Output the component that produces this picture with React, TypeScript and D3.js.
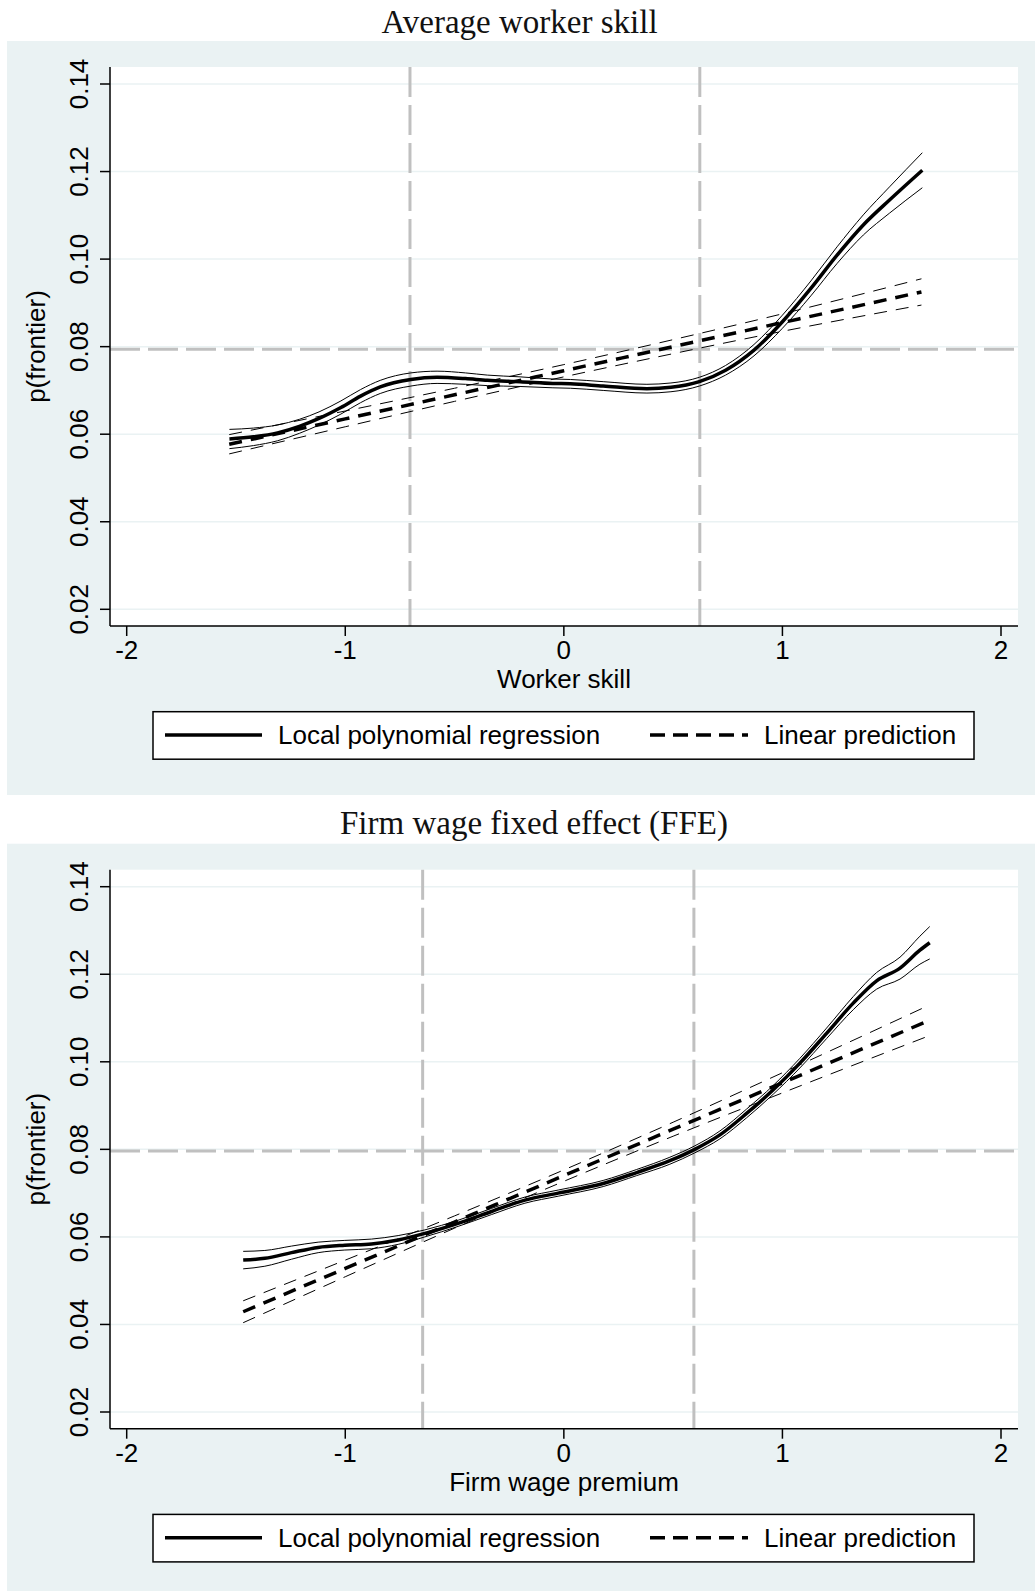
import React from "react";
import * as d3 from "d3";

// ---- Average worker skill ----
const skillX = [-1.53, -1.42, -1.31, -1.21, -1.12, -1.02, -0.93, -0.84, -0.7, -0.58, -0.45, -0.35, -0.2, -0.05, 0.03, 0.18, 0.38, 0.49, 0.62, 0.74, 0.87, 1.0, 1.13, 1.25, 1.37, 1.49, 1.64];
const skillFit = [0.0589, 0.0594, 0.0603, 0.0618, 0.0636, 0.0661, 0.0687, 0.0708, 0.0725, 0.073, 0.0727, 0.0723, 0.072, 0.0716, 0.0715, 0.071, 0.0704, 0.0707, 0.072, 0.0746, 0.0792, 0.0857, 0.0933, 0.1009, 0.1078, 0.1135, 0.1203];
const skillHi = [0.0611, 0.0614, 0.0621, 0.0634, 0.0651, 0.0676, 0.0702, 0.0723, 0.074, 0.0744, 0.074, 0.0735, 0.0731, 0.0726, 0.0725, 0.072, 0.0714, 0.0717, 0.073, 0.0757, 0.0805, 0.0872, 0.095, 0.1028, 0.1101, 0.1165, 0.1243];
const skillLo = [0.0567, 0.0574, 0.0585, 0.0602, 0.0621, 0.0646, 0.0672, 0.0693, 0.071, 0.0716, 0.0714, 0.0711, 0.0709, 0.0706, 0.0705, 0.07, 0.0694, 0.0697, 0.071, 0.0735, 0.0779, 0.0842, 0.0916, 0.099, 0.1055, 0.1105, 0.1163];
const skillLinX = [-1.531, -1, -0.5, 0, 0.5, 1, 1.636];
const skillLin = [0.0577, 0.0635, 0.069, 0.0745, 0.08, 0.0855, 0.0925];
const skillLinHi = [0.0599, 0.0653, 0.0705, 0.0759, 0.0816, 0.0875, 0.0955];
const skillLinLo = [0.0555, 0.0617, 0.0675, 0.0731, 0.0784, 0.0835, 0.0895];
const skillRefX = [-0.704, 0.622];
const skillRefY = 0.0794;

// ---- Firm wage fixed effect ----
const ffeX = [-1.467, -1.368, -1.246, -1.124, -1.002, -0.88, -0.758, -0.636, -0.484, -0.331, -0.178, -0.026, 0.18, 0.333, 0.485, 0.599, 0.714, 0.836, 0.958, 1.08, 1.202, 1.324, 1.431, 1.538, 1.629, 1.674];
const ffeFit = [0.0547, 0.0551, 0.0564, 0.0576, 0.0581, 0.0584, 0.0593, 0.0608, 0.0631, 0.0658, 0.0684, 0.07, 0.0722, 0.0747, 0.0774, 0.08, 0.0833, 0.0882, 0.0936, 0.0997, 0.1065, 0.1134, 0.1185, 0.1214, 0.1255, 0.1272];
const ffeHi = [0.0567, 0.0569, 0.0579, 0.0588, 0.0592, 0.0595, 0.0603, 0.0616, 0.0638, 0.0665, 0.0691, 0.0707, 0.0729, 0.0754, 0.0782, 0.0808, 0.0842, 0.0892, 0.0946, 0.1008, 0.1077, 0.1149, 0.1204, 0.1239, 0.1287, 0.1309];
const ffeLo = [0.0527, 0.0533, 0.0549, 0.0564, 0.057, 0.0573, 0.0583, 0.06, 0.0624, 0.0651, 0.0677, 0.0693, 0.0715, 0.074, 0.0766, 0.0792, 0.0824, 0.0872, 0.0926, 0.0986, 0.1053, 0.1119, 0.1166, 0.1189, 0.1223, 0.1235];
const ffeLinX = [-1.467, -1, -0.5, 0, 0.5, 1, 1.674];
const ffeLin = [0.0429, 0.0528, 0.0634, 0.074, 0.0846, 0.0952, 0.1095];
const ffeLinHi = [0.0454, 0.0547, 0.0648, 0.0753, 0.0862, 0.0975, 0.113];
const ffeLinLo = [0.0404, 0.0509, 0.062, 0.0727, 0.083, 0.0929, 0.106];
const ffeRefX = [-0.646, 0.595];
const ffeRefY = 0.0796;

const xTicks = [-2, -1, 0, 1, 2];
const yTicks = [0.02, 0.04, 0.06, 0.08, 0.1, 0.12, 0.14];

const BG = "#EAF2F3";
const REF = "#C0C0C0";
const SANS = "'Liberation Sans', Arial, sans-serif";

// plot region (panel-local)
const left = 110, right = 1018, top = 67, bottom = 626;
const xScale = d3.scaleLinear().domain([-2, 2]).range([126.7, 1001]);
const yScale = d3.scaleLinear().domain([0.02, 0.14]).range([609.3, 84]);

function pathOf(xs: number[], ys: number[]) {
  const pts = xs.map((x, i) => [x, ys[i]] as [number, number]);
  return d3
    .line<[number, number]>()
    .x((d) => xScale(d[0]))
    .y((d) => yScale(d[1]))
    .curve(d3.curveMonotoneX)(pts) as string;
}

function Panel(props: any) {
  const { dy, title, titleX, titleY, xLabel, bgH, s } = props;
  return (
    <g transform={`translate(0,${dy})`}>
      <text x={titleX} y={titleY} textAnchor="middle" fontFamily="'Liberation Serif', 'Times New Roman', serif" fontSize={33} fill="#111">
        {title}
      </text>
      <rect x={7} y={41} width={1028} height={bgH} fill={BG} />
      <rect x={left} y={top} width={right - left} height={bottom - top} fill="#fff" />
      {yTicks.map((t) => (
        <line key={"g" + t} x1={left} x2={right} y1={yScale(t)} y2={yScale(t)} stroke={BG} strokeWidth={1.5} />
      ))}
      {/* reference lines */}
      <line x1={left} x2={right} y1={yScale(s.refY)} y2={yScale(s.refY)} stroke={REF} strokeWidth={3} strokeDasharray="30,8" />
      {s.refX.map((v: number) => (
        <line key={"r" + v} x1={xScale(v)} x2={xScale(v)} y1={top} y2={bottom} stroke={REF} strokeWidth={3} strokeDasharray="30,8" />
      ))}
      {/* linear prediction */}
      <path d={pathOf(s.linX, s.linHi)} fill="none" stroke="#000" strokeWidth={1} strokeDasharray="13,9" />
      <path d={pathOf(s.linX, s.linLo)} fill="none" stroke="#000" strokeWidth={1} strokeDasharray="13,9" />
      <path d={pathOf(s.linX, s.lin)} fill="none" stroke="#000" strokeWidth={3.5} strokeDasharray="13,9" />
      {/* local polynomial */}
      <path d={pathOf(s.x, s.hi)} fill="none" stroke="#000" strokeWidth={1} />
      <path d={pathOf(s.x, s.lo)} fill="none" stroke="#000" strokeWidth={1} />
      <path d={pathOf(s.x, s.fit)} fill="none" stroke="#000" strokeWidth={3.5} />
      {/* axes */}
      <line x1={left} x2={left} y1={top} y2={bottom} stroke="#000" strokeWidth={1.5} />
      <line x1={left} x2={right} y1={bottom} y2={bottom} stroke="#000" strokeWidth={1.5} />
      {yTicks.map((t) => (
        <g key={"y" + t}>
          <line x1={left - 10} x2={left} y1={yScale(t)} y2={yScale(t)} stroke="#000" strokeWidth={1.5} />
          <text transform={`translate(88,${yScale(t)}) rotate(-90)`} textAnchor="middle" fontFamily={SANS} fontSize={26} fill="#000">
            {d3.format(".2f")(t)}
          </text>
        </g>
      ))}
      {xTicks.map((t) => (
        <g key={"x" + t}>
          <line x1={xScale(t)} x2={xScale(t)} y1={bottom} y2={bottom + 10} stroke="#000" strokeWidth={1.5} />
          <text x={xScale(t)} y={659} textAnchor="middle" fontFamily={SANS} fontSize={26} fill="#000">
            {t}
          </text>
        </g>
      ))}
      <text transform={`translate(45,${(top + bottom) / 2}) rotate(-90)`} textAnchor="middle" fontFamily={SANS} fontSize={26} fill="#000">
        p(frontier)
      </text>
      <text x={(left + right) / 2} y={688} textAnchor="middle" fontFamily={SANS} fontSize={26} fill="#000">
        {xLabel}
      </text>
      {/* legend */}
      <rect x={153} y={711.7} width={821} height={47.5} fill="#fff" stroke="#000" strokeWidth={1.5} />
      <line x1={165} x2={262} y1={735} y2={735} stroke="#000" strokeWidth={3.5} />
      <text x={278} y={744} fontFamily={SANS} fontSize={26} fill="#000">Local polynomial regression</text>
      <line x1={650} x2={748} y1={735} y2={735} stroke="#000" strokeWidth={3.5} strokeDasharray="15,8" />
      <text x={764} y={744} fontFamily={SANS} fontSize={26} fill="#000">Linear prediction</text>
    </g>
  );
}

export default function App() {
  const skill = { x: skillX, fit: skillFit, hi: skillHi, lo: skillLo, linX: skillLinX, lin: skillLin, linHi: skillLinHi, linLo: skillLinLo, refX: skillRefX, refY: skillRefY };
  const ffe = { x: ffeX, fit: ffeFit, hi: ffeHi, lo: ffeLo, linX: ffeLinX, lin: ffeLin, linHi: ffeLinHi, linLo: ffeLinLo, refX: ffeRefX, refY: ffeRefY };
  return (
    <svg width={1035} height={1591} style={{ position: "absolute", left: 0, top: 0, background: "#fff" }}>
      <Panel dy={0} title="Average worker skill" titleX={519.5} titleY={33} xLabel="Worker skill" bgH={754} s={skill} />
      <Panel dy={802.7} title="Firm wage fixed effect (FFE)" titleX={534} titleY={31.3} xLabel="Firm wage premium" bgH={788.3} s={ffe} />
    </svg>
  );
}
